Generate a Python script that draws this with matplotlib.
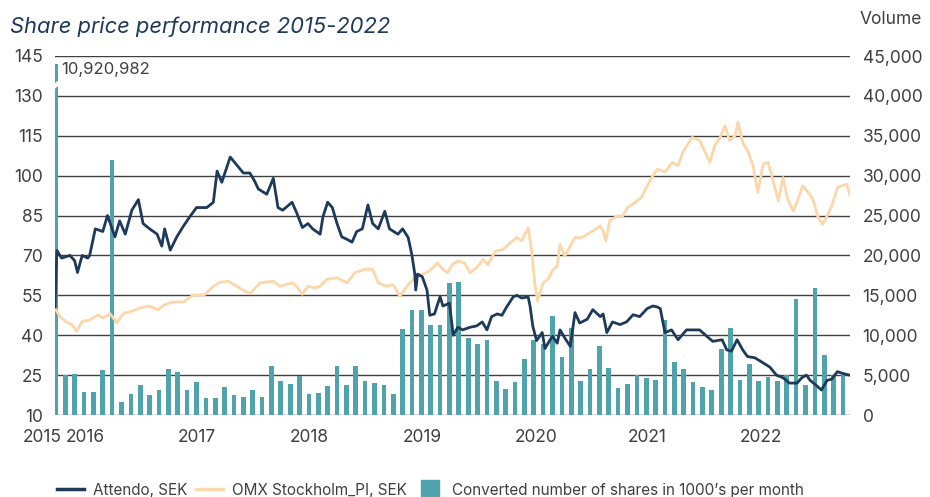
import matplotlib
matplotlib.use("Agg")
import matplotlib.pyplot as plt
from matplotlib.lines import Line2D
from matplotlib.ticker import FuncFormatter

plt.rcParams['font.family'] = ['Inter', 'DejaVu Sans']

# Monthly bars, index 0 = Dec 2015 ... 84 = Dec 2022 (thousands of shares)
volume = [10920982, 4990, 5190, 2930, 2930, 5690, 32000, 1670, 2680, 3810,
          2550, 3180, 5820, 5440, 3180, 4190, 2170, 2170, 3560, 2550,
          2300, 3180, 2300, 6200, 4310, 3930, 4940, 2680, 2800, 3680,
          6200, 3810, 6200, 4310, 4060, 3810, 2680, 10840, 13100, 13100,
          11220, 11220, 16500, 16620, 9680, 8840, 9340, 4270, 3270, 4150,
          7040, 9420, 8840, 12440, 7290, 10930, 4270, 5780, 8670, 5900,
          3390, 3890, 4980, 4650, 4400, 11930, 6660, 5780, 4150, 3520,
          3140, 8290, 10930, 4400, 6410, 4270, 4770, 4270, 5030, 14570,
          3770, 15950, 7540, 5030, 5030]
volume_cap = 44000  # first month is off the scale, bar is broken

# Attendo share price, SEK (time in months after Dec 2015)
attendo_t = [-0.1, 0.1, 0.6, 1.5, 2.0, 2.3, 2.8, 3.4, 3.6, 4.2,
             5.0, 5.5, 6.3, 6.8, 7.4, 8.1, 8.8, 9.3, 10.0, 10.8,
             11.3, 11.6, 12.2, 12.9, 13.6, 14.3, 15.0, 16.1, 16.8, 17.2,
             17.7, 18.6, 19.3, 20.0, 20.7, 21.2, 21.6, 22.5, 23.2, 23.7,
             24.2, 25.2, 25.7, 26.3, 26.9, 27.4, 28.2, 28.5, 29.0, 29.5,
             30.0, 30.5, 31.1, 31.6, 32.1, 32.7, 33.3, 33.8, 34.4, 35.1,
             35.6, 36.5, 37.0, 37.6, 38.0, 38.3, 38.4, 38.6, 39.1, 39.6,
             39.9, 40.4, 41.0, 41.3, 42.0, 42.4, 42.9, 43.4, 44.2, 44.9,
             45.5, 46.0, 46.5, 47.1, 47.6, 48.1, 48.8, 49.2, 49.7, 50.4,
             50.6, 50.9, 51.3, 51.9, 52.2, 52.7, 53.0, 53.5, 53.8, 54.3,
             54.9, 55.4, 55.9, 56.7, 57.3, 58.1, 58.4, 58.8, 59.4, 60.2,
             60.9, 61.6, 62.3, 63.1, 63.7, 64.2, 64.5, 64.8, 65.0, 65.7,
             66.4, 67.3, 68.7, 69.5, 70.1, 71.1, 71.6, 72.1, 72.7, 73.3,
             73.8, 74.6, 75.3, 76.2, 76.9, 77.6, 78.3, 79.1, 79.6, 80.1,
             80.5, 81.2, 81.7, 82.3, 82.8, 83.4, 84.0, 84.7]
attendo_sek = [50.6, 71.9, 69.0, 70.0, 68.0, 63.6, 70.0, 69.0, 70.0, 80.0,
               79.0, 85.0, 77.0, 83.0, 78.0, 87.0, 91.0, 82.0, 80.0, 78.0,
               73.5, 80.0, 72.0, 77.0, 81.0, 84.6, 88.0, 88.0, 90.0, 101.7,
               97.5, 107.0, 104.0, 101.0, 101.0, 98.0, 95.0, 93.0, 99.0, 88.0,
               87.0, 90.0, 86.0, 80.5, 82.0, 80.0, 78.0, 84.6, 90.0, 88.0,
               82.0, 77.0, 76.0, 75.0, 79.0, 80.0, 89.0, 82.0, 80.0, 86.6,
               80.0, 78.0, 80.0, 76.7, 70.0, 63.0, 57.0, 63.0, 62.0, 57.0,
               47.5, 48.0, 54.5, 51.0, 52.0, 40.0, 43.0, 42.0, 43.0, 43.5,
               45.0, 42.0, 47.0, 48.0, 47.5, 50.6, 54.4, 55.0, 54.0, 54.4,
               51.0, 43.3, 38.0, 41.0, 35.0, 38.0, 39.6, 37.0, 42.0, 39.0,
               35.8, 48.5, 44.6, 46.0, 49.6, 47.0, 48.0, 41.0, 45.0, 44.0,
               45.0, 47.7, 47.0, 50.0, 51.0, 50.6, 50.0, 44.6, 41.0, 42.0,
               38.3, 42.0, 42.0, 39.5, 37.7, 38.3, 34.5, 34.0, 38.3, 34.5,
               32.0, 31.5, 30.0, 28.0, 25.0, 24.0, 22.0, 22.0, 24.0, 25.0,
               23.0, 21.0, 19.4, 23.0, 23.5, 26.3, 25.6, 25.0]

# OMX Stockholm PI, rebased to SEK
omx_t = [-0.1, 0.4, 1.2, 1.7, 2.2, 2.8, 3.6, 4.5, 5.0, 5.8,
         6.5, 7.2, 8.1, 9.0, 10.0, 10.9, 11.6, 12.5, 13.6, 14.6,
         15.9, 16.8, 17.5, 18.4, 19.3, 20.0, 20.7, 21.8, 23.2, 23.9,
         25.2, 25.7, 26.3, 26.9, 27.6, 28.2, 28.9, 30.0, 31.1, 31.9,
         33.0, 33.8, 34.4, 35.3, 36.0, 36.7, 37.6, 38.5, 39.2, 39.9,
         40.7, 41.3, 41.8, 42.3, 42.9, 43.6, 44.2, 44.9, 45.6, 46.1,
         46.9, 47.7, 48.5, 49.2, 49.7, 50.4, 50.8, 51.1, 51.4, 52.0,
         52.5, 53.0, 53.5, 53.8, 54.3, 54.9, 55.4, 56.1, 56.7, 57.3,
         58.1, 58.4, 58.7, 59.1, 59.9, 60.5, 61.0, 61.8, 62.5, 63.1,
         63.7, 64.2, 65.0, 65.8, 66.4, 66.9, 67.9, 68.7, 69.3, 69.8,
         70.3, 70.9, 71.4, 71.9, 72.5, 72.8, 73.3, 73.9, 74.4, 74.9,
         75.5, 76.0, 76.5, 77.1, 77.6, 78.1, 78.7, 79.2, 79.7, 80.3,
         80.8, 81.3, 81.8, 82.3, 82.8, 83.4, 83.9, 84.4, 84.7]
omx_sek = [50.3, 47.1, 44.7, 44.0, 41.5, 45.2, 45.7, 47.7, 46.5, 48.0,
           44.7, 48.2, 49.0, 50.3, 50.9, 49.6, 51.5, 52.5, 52.5, 55.0,
           55.3, 58.4, 59.9, 60.3, 58.4, 56.9, 55.7, 59.7, 60.3, 58.4,
           59.7, 58.4, 55.4, 58.4, 57.8, 58.4, 61.0, 61.6, 59.7, 63.5,
           64.8, 64.8, 59.7, 58.4, 59.0, 54.6, 59.0, 62.2, 63.0, 64.2,
           67.2, 64.8, 63.5, 66.6, 67.9, 67.2, 63.5, 65.4, 68.5, 66.6,
           71.6, 72.2, 74.8, 76.7, 75.5, 80.4, 71.0, 59.7, 52.8, 59.7,
           60.9, 64.3, 66.0, 74.2, 69.7, 73.6, 76.7, 76.7, 77.9, 79.2,
           81.1, 79.2, 75.4, 83.0, 84.8, 84.8, 88.0, 89.9, 91.8, 96.2,
           99.9, 102.5, 101.3, 105.0, 103.8, 108.8, 114.4, 113.2, 108.8, 105.0,
           111.2, 114.4, 118.8, 113.2, 115.1, 120.1, 112.5, 108.8, 103.8, 93.7,
           104.4, 105.0, 98.7, 90.5, 99.3, 91.1, 86.7, 91.1, 96.2, 93.7,
           91.1, 84.8, 81.7, 84.8, 88.6, 95.5, 96.2, 96.8, 93.0]

year_labels = ['2015', '2016', '2017', '2018', '2019', '2020', '2021', '2022']
year_pos = [0.65, 1.0, 13.0, 25.0, 37.0, 49.0, 61.0, 73.0]

navy = '#1e3a5a'
peach = '#fcd7aa'
teal = '#50a3aa'
txt = '#404040'

fig = plt.figure(figsize=(9.3, 4.97), dpi=100)
ax_v = fig.add_axes([55/930, 1-415/497, 795/930, 359/497])
ax_p = ax_v.twinx()

# volume bars (right axis)
months = list(range(len(volume)))
heights = [min(v, volume_cap) for v in volume]
ax_v.bar(months, heights, width=0.5, color=teal, zorder=2)
# break mark on the off-scale first bar
ax_v.plot([-0.45, 0.45], [40900, 41800], color='white', lw=3, zorder=3,
          solid_capstyle='butt')
ax_v.text(0.55, 43300, f'{volume[0]:,}', fontsize=12, color=txt,
          ha='left', va='center', zorder=4)

ax_v.set_ylim(0, 45000)
ax_v.set_yticks(range(0, 45001, 5000))
ax_v.yaxis.set_major_formatter(FuncFormatter(lambda v, p: f'{int(v):,}'))
ax_v.yaxis.set_ticks_position('right')
ax_v.grid(axis='y', color='#404040', lw=1.0, zorder=0)
ax_v.set_axisbelow(True)

# price lines (left axis)
ax_p.plot(omx_t, omx_sek, color=peach, lw=2.0, zorder=3)
ax_p.plot(attendo_t, attendo_sek, color=navy, lw=2.0, zorder=4)
ax_p.set_ylim(10, 145)
ax_p.set_yticks(range(10, 146, 15))
ax_p.yaxis.set_ticks_position('left')

for a in (ax_v, ax_p):
    a.set_xlim(-0.1, 84.75)
    for s in a.spines.values():
        s.set_visible(False)
ax_v.tick_params(axis='y', length=0, pad=9, labelsize=12.5, labelcolor=txt)
ax_p.tick_params(axis='y', length=0, pad=8.5, labelsize=12.5, labelcolor=txt)

ax_v.set_xticks(year_pos)
ax_v.set_xticklabels(year_labels)
ax_v.tick_params(axis='x', length=0, pad=10, labelsize=12.5, labelcolor=txt)
for i, lab in enumerate(ax_v.get_xticklabels()):
    lab.set_ha('right' if i == 0 else 'left')

fig.text(10/930, 1-27/497, 'Share price performance 2015-2022',
         fontsize=15.8, style='italic', color=navy, va='center', ha='left')
fig.text(860/930, 1-20/497, 'Volume', fontsize=12.5, color=txt,
         va='center', ha='left')

handles = [Line2D([], [], color=navy, lw=2.5),
           Line2D([], [], color=peach, lw=2.5),
           Line2D([], [], color=teal, marker='s', markersize=13, linestyle='none')]
labels = ['Attendo, SEK', 'OMX Stockholm_PI, SEK',
          'Converted number of shares in 1000\u2019s per month']
fig.legend(handles, labels, loc='center left', bbox_to_anchor=(57/930, 1-490/497),
           ncol=3, frameon=False, fontsize=11, handlelength=1.75,
           handletextpad=0.6, columnspacing=0.6, borderaxespad=0, borderpad=0,
           labelcolor=txt)

fig.savefig('out.png', dpi=100)
